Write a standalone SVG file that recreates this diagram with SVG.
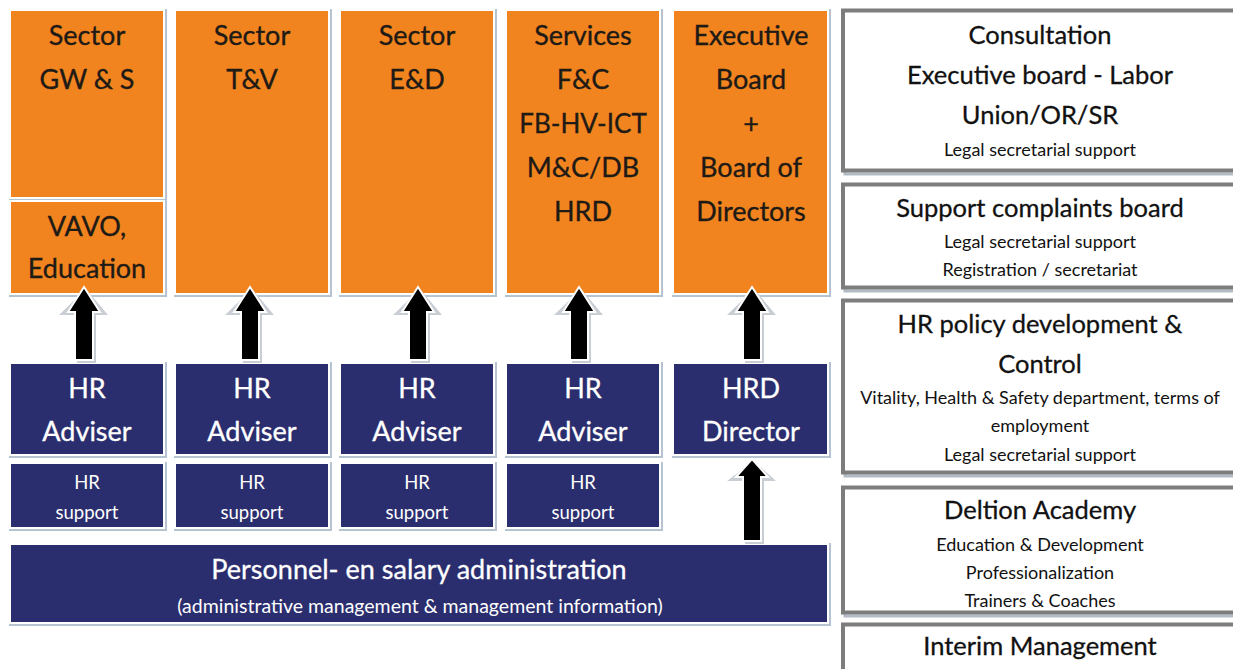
<svg xmlns="http://www.w3.org/2000/svg" width="1233" height="669" viewBox="0 0 1233 669">
  <style>
    .shade { fill: #b6c3d1; }
    .halo { fill: #ffffff; }
    .org { fill: #f2841f; }
    .navy { fill: #2b2e6e; }
    .side { fill: #ffffff; stroke: #7d7d7d; stroke-width: 4; }
    .side-shade { fill: none; stroke: #b3bcc6; stroke-width: 3; }
    text { font-family: Lato, "Open Sans", "Liberation Sans", sans-serif; text-anchor: middle; }
    .dk { fill: #1e1a16; stroke: #1e1a16; stroke-width: 0.35; font-size: 27px; }
    .wt { fill: #ffffff; stroke: #ffffff; stroke-width: 0.3; font-size: 27px; }
    .wt-s { fill: #ffffff; font-size: 18.5px; }
    .sd { fill: #111111; stroke: #111111; stroke-width: 0.3; font-size: 25.5px; }
    .sd-s { fill: #111111; font-size: 18px; }
    .arr-sh { fill: #c9ced4; }
    .arr { fill: #000000; stroke: #ffffff; stroke-width: 2; stroke-linejoin: miter; }
  </style>

  <rect width="1233" height="669" fill="#ffffff"/>

  <!-- orange units -->
  <g id="sector-gws">
    <rect class="shade" x="9" y="9" width="158" height="192"/>
    <rect class="halo" x="9" y="9" width="156" height="190"/>
    <rect class="org" x="11" y="11" width="152" height="186"/>
    <text class="dk" x="87" y="45">Sector</text>
    <text class="dk" x="87" y="89">GW &amp; S</text>
  </g>
  <g id="vavo">
    <rect class="shade" x="9" y="200" width="158" height="97"/>
    <rect class="halo" x="9" y="200" width="156" height="95"/>
    <rect class="org" x="11" y="202" width="152" height="91"/>
    <text class="dk" x="87" y="236">VAVO,</text>
    <text class="dk" x="87" y="278">Education</text>
  </g>
  <g id="sector-tv">
    <rect class="shade" x="174" y="9" width="158" height="288"/>
    <rect class="halo" x="174" y="9" width="156" height="286"/>
    <rect class="org" x="176" y="11" width="152" height="282"/>
    <text class="dk" x="252" y="45">Sector</text>
    <text class="dk" x="252" y="89">T&amp;V</text>
  </g>
  <g id="sector-ed">
    <rect class="shade" x="339" y="9" width="158" height="288"/>
    <rect class="halo" x="339" y="9" width="156" height="286"/>
    <rect class="org" x="341" y="11" width="152" height="282"/>
    <text class="dk" x="417" y="45">Sector</text>
    <text class="dk" x="417" y="89">E&amp;D</text>
  </g>
  <g id="services">
    <rect class="shade" x="505" y="9" width="158" height="288"/>
    <rect class="halo" x="505" y="9" width="156" height="286"/>
    <rect class="org" x="507" y="11" width="152" height="282"/>
    <text class="dk" x="583" y="45">Services</text>
    <text class="dk" x="583" y="89">F&amp;C</text>
    <text class="dk" x="583" y="133" style="font-size:26px">FB-HV-ICT</text>
    <text class="dk" x="583" y="177">M&amp;C/DB</text>
    <text class="dk" x="583" y="221">HRD</text>
  </g>
  <g id="executive">
    <rect class="shade" x="672" y="9" width="159" height="288"/>
    <rect class="halo" x="672" y="9" width="157" height="286"/>
    <rect class="org" x="674" y="11" width="153" height="282"/>
    <text class="dk" x="751" y="45">Executive</text>
    <text class="dk" x="751" y="89">Board</text>
    <text class="dk" x="751" y="133">+</text>
    <text class="dk" x="751" y="177">Board of</text>
    <text class="dk" x="751" y="221">Directors</text>
  </g>

  <!-- HR advisers -->
  <g id="adviser-1">
    <rect class="shade" x="9" y="362" width="158" height="96"/>
    <rect class="halo" x="9" y="362" width="156" height="94"/>
    <rect class="navy" x="11" y="364" width="152" height="90"/>
    <text class="wt" x="87" y="398">HR</text>
    <text class="wt" x="87" y="441">Adviser</text>
  </g>
  <g id="adviser-2">
    <rect class="shade" x="174" y="362" width="158" height="96"/>
    <rect class="halo" x="174" y="362" width="156" height="94"/>
    <rect class="navy" x="176" y="364" width="152" height="90"/>
    <text class="wt" x="252" y="398">HR</text>
    <text class="wt" x="252" y="441">Adviser</text>
  </g>
  <g id="adviser-3">
    <rect class="shade" x="339" y="362" width="158" height="96"/>
    <rect class="halo" x="339" y="362" width="156" height="94"/>
    <rect class="navy" x="341" y="364" width="152" height="90"/>
    <text class="wt" x="417" y="398">HR</text>
    <text class="wt" x="417" y="441">Adviser</text>
  </g>
  <g id="adviser-4">
    <rect class="shade" x="505" y="362" width="158" height="96"/>
    <rect class="halo" x="505" y="362" width="156" height="94"/>
    <rect class="navy" x="507" y="364" width="152" height="90"/>
    <text class="wt" x="583" y="398">HR</text>
    <text class="wt" x="583" y="441">Adviser</text>
  </g>
  <g id="hrd-director">
    <rect class="shade" x="672" y="362" width="159" height="96"/>
    <rect class="halo" x="672" y="362" width="157" height="94"/>
    <rect class="navy" x="674" y="364" width="153" height="90"/>
    <text class="wt" x="751" y="398">HRD</text>
    <text class="wt" x="751" y="441">Director</text>
  </g>

  <!-- HR support -->
  <g id="support-1">
    <rect class="shade" x="9" y="462" width="158" height="69"/>
    <rect class="halo" x="9" y="462" width="156" height="67"/>
    <rect class="navy" x="11" y="464" width="152" height="63"/>
    <text class="wt-s" x="87" y="489">HR</text>
    <text class="wt-s" x="87" y="519">support</text>
  </g>
  <g id="support-2">
    <rect class="shade" x="174" y="462" width="158" height="69"/>
    <rect class="halo" x="174" y="462" width="156" height="67"/>
    <rect class="navy" x="176" y="464" width="152" height="63"/>
    <text class="wt-s" x="252" y="489">HR</text>
    <text class="wt-s" x="252" y="519">support</text>
  </g>
  <g id="support-3">
    <rect class="shade" x="339" y="462" width="158" height="69"/>
    <rect class="halo" x="339" y="462" width="156" height="67"/>
    <rect class="navy" x="341" y="464" width="152" height="63"/>
    <text class="wt-s" x="417" y="489">HR</text>
    <text class="wt-s" x="417" y="519">support</text>
  </g>
  <g id="support-4">
    <rect class="shade" x="505" y="462" width="158" height="69"/>
    <rect class="halo" x="505" y="462" width="156" height="67"/>
    <rect class="navy" x="507" y="464" width="152" height="63"/>
    <text class="wt-s" x="583" y="489">HR</text>
    <text class="wt-s" x="583" y="519">support</text>
  </g>

  <!-- salary administration -->
  <g id="salary-admin">
    <rect class="shade" x="9" y="543" width="822" height="83"/>
    <rect class="halo" x="9" y="543" width="820" height="81"/>
    <rect class="navy" x="11" y="545" width="816" height="77"/>
    <text class="wt" x="419" y="579">Personnel- en salary administration</text>
    <text class="wt-s" x="420" y="613" style="font-size:19.5px">(administrative management &amp; management information)</text>
  </g>

  <!-- right-hand service boxes -->
  <g id="consultation">
    <rect class="side-shade" x="845" y="13" width="420" height="161"/>
    <rect class="side" x="843" y="10.5" width="420" height="160"/>
    <text class="sd" x="1040" y="44">Consultation</text>
    <text class="sd" x="1040" y="84">Executive board - Labor</text>
    <text class="sd" x="1040" y="124">Union/OR/SR</text>
    <text class="sd-s" x="1040" y="156">Legal secretarial support</text>
  </g>
  <g id="complaints">
    <rect class="side-shade" x="845" y="187" width="420" height="104"/>
    <rect class="side" x="843" y="184.5" width="420" height="103"/>
    <text class="sd" x="1040" y="217">Support complaints board</text>
    <text class="sd-s" x="1040" y="248">Legal secretarial support</text>
    <text class="sd-s" x="1040" y="276">Registration / secretariat</text>
  </g>
  <g id="hr-policy">
    <rect class="side-shade" x="845" y="303" width="420" height="173"/>
    <rect class="side" x="843" y="300.5" width="420" height="172"/>
    <text class="sd" x="1040" y="333">HR policy development &amp;</text>
    <text class="sd" x="1040" y="373">Control</text>
    <text class="sd-s" x="1040" y="404">Vitality, Health &amp; Safety department, terms of</text>
    <text class="sd-s" x="1040" y="432">employment</text>
    <text class="sd-s" x="1040" y="461">Legal secretarial support</text>
  </g>
  <g id="academy">
    <rect class="side-shade" x="845" y="490" width="420" height="126"/>
    <rect class="side" x="843" y="487.5" width="420" height="125"/>
    <text class="sd" x="1040" y="519">Deltion Academy</text>
    <text class="sd-s" x="1040" y="551">Education &amp; Development</text>
    <text class="sd-s" x="1040" y="579">Professionalization</text>
    <text class="sd-s" x="1040" y="607">Trainers &amp; Coaches</text>
  </g>
  <g id="interim">
    <rect class="side" x="843" y="624.5" width="420" height="100"/>
    <text class="sd" x="1040" y="655">Interim Management</text>
  </g>

  <!-- upward connectors -->
  <g id="connectors">
    <g transform="translate(84,0)">
      <polygon class="arr-sh" points="2,289 24,315 12,315 12,363 -7,363 -7,315 -25,315"/>
      <polygon class="arr" points="0,287 16,312 9,312 9,360 -9,360 -9,312 -16,312"/>
    </g>
    <g transform="translate(250,0)">
      <polygon class="arr-sh" points="2,289 24,315 12,315 12,363 -7,363 -7,315 -25,315"/>
      <polygon class="arr" points="0,287 16,312 9,312 9,360 -9,360 -9,312 -16,312"/>
    </g>
    <g transform="translate(418,0)">
      <polygon class="arr-sh" points="2,289 24,315 12,315 12,363 -7,363 -7,315 -25,315"/>
      <polygon class="arr" points="0,287 16,312 9,312 9,360 -9,360 -9,312 -16,312"/>
    </g>
    <g transform="translate(579,0)">
      <polygon class="arr-sh" points="2,289 24,315 12,315 12,363 -7,363 -7,315 -25,315"/>
      <polygon class="arr" points="0,287 16,312 9,312 9,360 -9,360 -9,312 -16,312"/>
    </g>
    <g transform="translate(752,0)">
      <polygon class="arr-sh" points="2,289 24,315 12,315 12,363 -7,363 -7,315 -25,315"/>
      <polygon class="arr" points="0,287 16,312 9,312 9,360 -9,360 -9,312 -16,312"/>
    </g>
    <g transform="translate(752,0)">
      <polygon class="arr-sh" points="2,461 24,481 12,481 12,544 -7,544 -7,481 -25,481"/>
      <polygon class="arr" points="0,459 16,477 9,477 9,541 -9,541 -9,477 -16,477"/>
    </g>
  </g>
</svg>
